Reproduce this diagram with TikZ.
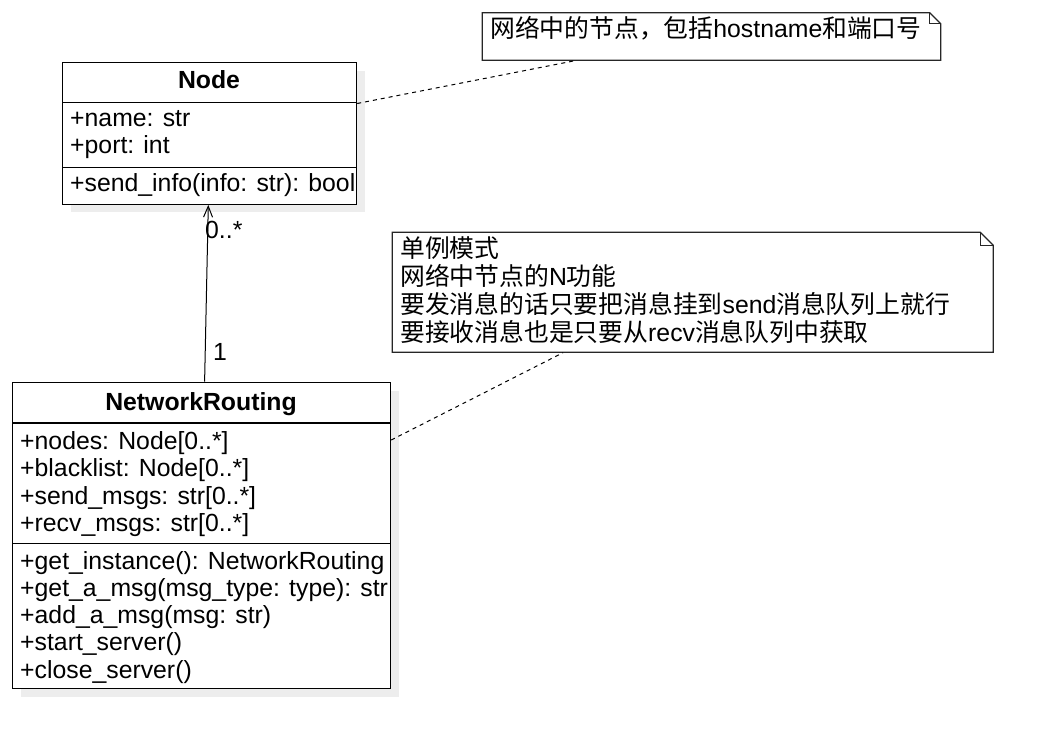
\documentclass[tikz,border=0pt]{standalone}
\usepackage{fontspec}
\setmainfont{Liberation Sans}
\newfontfamily\cjk{Noto Sans CJK SC}
\usetikzlibrary{arrows.meta}
\begin{document}
\begin{tikzpicture}[x=1pt,y=-1pt,
  font=\fontsize{24.8}{27.7}\selectfont,
  comp/.style={draw=black, line width=1.2pt, fill=white, inner sep=0pt, anchor=north west},
  shadowbox/.style={fill=black!7, draw=none},
  txt/.style={anchor=base west, inner sep=0pt},
  ttl/.style={anchor=base, inner sep=0pt, font=\fontsize{24.8}{27.7}\selectfont\bfseries},
  noteline/.style={draw=black!85, line width=1.2pt, line join=miter},
  link/.style={dash pattern=on 4pt off 4pt, line width=1pt},
  assoc/.style={line width=1pt, -{Straight Barb[length=11pt,width=9pt,line width=1pt]}}
]
\useasboundingbox[fill=white] (0,0) rectangle (1043,738);

% ---------- shadows ----------
\fill[shadowbox] (71,71) rectangle (365,212);
\fill[shadowbox] (21,390.7) rectangle (399,697);

% ---------- class Node ----------
\node[comp, minimum width=294pt, minimum height=40.3pt] (nodeH) at (62,62) {};
\node[comp, minimum width=294pt, minimum height=65pt] (nodeA) at (62,102.3) {};
\node[comp, minimum width=294pt, minimum height=36.4pt] (nodeM) at (62,167.3) {};
\node[ttl] (nodeT) at (209,89) {Node};
\node[txt] (nodeA1) at (70,127) {+name: str};
\node[txt] (nodeA2) at (70,154) {+port: int};
\node[txt] (nodeM1) at (70,192) {+send\_info(info: str): bool};

% ---------- class NetworkRouting ----------
\node[comp, minimum width=378pt, minimum height=40.6pt] (nrH) at (12,381.7) {};
\node[comp, minimum width=378pt, minimum height=120.4pt] (nrA) at (12,422.3) {};
\node[comp, minimum width=378pt, minimum height=145.3pt] (nrM) at (12,542.7) {};
\node[ttl] (nrT) at (201,410.7) {NetworkRouting};
\node[txt] (nrA1) at (20,449) {+nodes: Node[0..*]};
\node[txt] (nrA2) at (20,476.6) {+blacklist: Node[0..*]};
\node[txt] (nrA3) at (20,504.2) {+send\_msgs: str[0..*]};
\node[txt] (nrA4) at (20,531.8) {+recv\_msgs: str[0..*]};
\node[txt] (nrM1) at (20,569) {+get\_instance(): NetworkRouting};
\node[txt] (nrM2) at (20,596.3) {+get\_a\_msg(msg\_type: type): str};
\node[txt] (nrM3) at (20,623.6) {+add\_a\_msg(msg: str)};
\node[txt] (nrM4) at (20,650.9) {+start\_server()};
\node[txt] (nrM5) at (20,678.2) {+close\_server()};

% ---------- note 1 ----------
\node[inner sep=0pt, minimum width=458.4pt, minimum height=47.6pt, anchor=north west] (note1) at (482.3,12.7) {};
\draw[noteline, fill=white] (482.3,12.7) -- (929.7,12.7) -- (940.7,23.7) -- (940.7,60.3) -- (482.3,60.3) -- cycle;
\draw[noteline, line width=1pt] (929.7,12.7) -- (929.7,23.7) -- (940.7,23.7);
\node[txt] (note1T) at (490,38) {{\cjk 网络中的节点，包括}hostname{\cjk 和端口号}};

% ---------- note 2 ----------
\node[inner sep=0pt, minimum width=601pt, minimum height=120pt, anchor=north west] (note2) at (392.3,232.3) {};
\draw[noteline, fill=white] (392.3,232.3) -- (980.3,232.3) -- (993.3,245.3) -- (993.3,352.3) -- (392.3,352.3) -- cycle;
\draw[noteline, line width=1pt] (980.3,232.3) -- (980.3,245.3) -- (993.3,245.3);
\node[txt] (note2L1) at (400,257) {{\cjk 单例模式}};
\node[txt] (note2L2) at (400,285) {{\cjk 网络中节点的}N{\cjk 功能}};
\node[txt] (note2L3) at (400,313) {{\cjk 要发消息的话只要把消息挂到}send{\cjk 消息队列上就行}};
\node[txt] (note2L4) at (400,341) {{\cjk 要接收消息也是只要从}recv{\cjk 消息队列中获取}};

% ---------- connectors ----------
\draw[link] (nodeH.south east) -- ([xshift=92.7pt]note1.south west);
\draw[link] ([yshift=-17.7pt]nrA.north east) -- ([xshift=170.7pt]note2.south west);
\draw[assoc] ([xshift=3pt]nrH.north) -- ([xshift=-1.3pt]nodeM.south);

% ---------- multiplicities ----------
\node[txt] (mulMany) at (205,238) {0..*};
\node[txt] (mulOne) at (213,360) {1};
\end{tikzpicture}
\end{document}
